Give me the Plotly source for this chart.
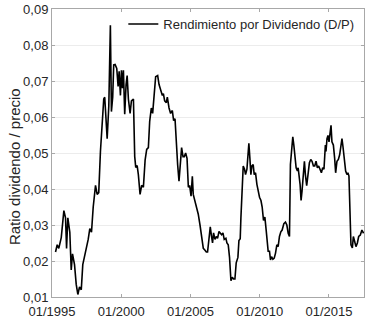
import plotly.graph_objects as go

fechas = [
    "1995-04-04", "1995-05-18", "1995-06-29", "1995-09-02", "1995-11-10", "1995-12-24",
    "1996-01-20", "1996-02-23", "1996-04-15", "1996-05-22", "1996-06-25", "1996-08-17",
    "1996-10-01", "1996-11-13", "1996-12-27", "1997-02-11", "1997-03-23", "1997-05-07",
    "1997-06-29", "1997-08-13", "1997-09-24", "1997-11-08", "1997-12-23", "1998-02-22",
    "1998-04-06", "1998-05-18", "1998-07-02", "1998-08-24", "1998-09-27", "1998-10-23",
    "1998-12-26", "1999-02-07", "1999-03-21", "1999-04-17", "1999-05-21", "1999-06-17",
    "1999-07-23", "1999-09-05", "1999-10-11", "1999-11-07", "1999-12-11", "2000-01-07",
    "2000-02-02", "2000-02-28", "2000-04-02", "2000-05-08", "2000-06-05", "2000-07-08",
    "2000-08-22", "2000-09-26", "2000-11-18", "2000-12-22", "2001-01-18", "2001-02-24",
    "2001-03-28", "2001-05-12", "2001-06-23", "2001-08-08", "2001-09-22", "2001-11-03",
    "2001-12-17", "2002-01-21", "2002-03-05", "2002-04-09", "2002-05-23", "2002-06-27",
    "2002-08-19", "2002-09-25", "2002-11-07", "2002-12-21", "2003-01-17", "2003-02-20",
    "2003-04-05", "2003-05-01", "2003-06-15", "2003-07-27", "2003-09-10", "2003-10-14",
    "2003-11-20", "2003-12-16", "2004-01-28", "2004-03-04", "2004-04-16", "2004-05-12",
    "2004-06-18", "2004-07-22", "2004-08-26", "2004-10-02", "2004-11-06", "2004-12-10",
    "2005-01-16", "2005-02-19", "2005-03-15", "2005-04-30", "2005-06-11", "2005-07-25",
    "2005-09-09", "2005-10-21", "2005-12-05", "2006-01-19", "2006-02-23", "2006-03-27",
    "2006-05-03", "2006-06-07", "2006-07-11", "2006-08-06", "2006-09-02", "2006-10-09",
    "2006-11-13", "2006-12-16", "2007-01-23", "2007-02-26", "2007-04-01", "2007-05-07",
    "2007-06-10", "2007-07-24", "2007-08-20", "2007-09-24", "2007-10-28", "2007-12-04",
    "2008-01-08", "2008-02-11", "2008-03-18", "2008-04-21", "2008-06-05", "2008-07-02",
    "2008-08-05", "2008-08-23", "2008-09-27", "2008-10-23", "2008-11-27", "2008-12-23",
    "2009-01-29", "2009-02-25", "2009-03-21", "2009-04-17", "2009-05-13", "2009-06-09",
    "2009-07-13", "2009-08-09", "2009-09-13", "2009-10-19", "2009-11-23", "2009-12-27",
    "2010-02-03", "2010-03-07", "2010-04-11", "2010-05-17", "2010-06-21", "2010-07-17",
    "2010-08-12", "2010-09-16", "2010-10-12", "2010-11-08", "2010-12-15", "2011-01-19",
    "2011-02-22", "2011-03-29", "2011-05-02", "2011-06-06", "2011-07-12", "2011-08-16",
    "2011-09-30", "2011-11-11", "2011-12-18", "2012-01-22", "2012-02-25", "2012-03-21",
    "2012-04-28", "2012-05-23", "2012-06-19", "2012-07-23", "2012-08-19", "2012-09-22",
    "2012-10-11", "2012-12-01", "2012-12-27", "2013-01-22", "2013-02-28", "2013-03-25",
    "2013-04-20", "2013-05-24", "2013-06-28", "2013-08-04", "2013-09-08", "2013-10-12",
    "2013-11-18", "2013-12-22", "2014-01-26", "2014-03-02", "2014-04-06", "2014-05-10",
    "2014-06-16", "2014-07-20", "2014-08-23", "2014-09-29", "2014-10-15", "2014-11-11",
    "2014-12-07", "2015-01-03", "2015-01-29", "2015-02-25", "2015-03-21", "2015-04-28",
    "2015-06-01", "2015-06-27", "2015-08-01", "2015-09-07", "2015-10-11", "2015-11-15",
    "2015-12-11", "2016-01-06", "2016-02-12", "2016-03-17", "2016-04-20", "2016-05-16",
    "2016-06-12", "2016-07-08", "2016-08-04", "2016-09-10", "2016-10-06", "2016-11-10",
    "2016-12-14", "2017-01-20", "2017-02-24", "2017-04-08", "2017-05-20", "2017-07-04",
]

rendimiento_dp = [
    0.0225, 0.0245, 0.0235, 0.0265, 0.0340, 0.0320,
    0.0235, 0.0320, 0.0280, 0.0175, 0.0220, 0.0190,
    0.0135, 0.0107, 0.0128, 0.0120, 0.0190, 0.0210,
    0.0235, 0.0260, 0.0290, 0.0280, 0.0350, 0.0410,
    0.0385, 0.0390, 0.0505, 0.0580, 0.0650, 0.0655,
    0.0540, 0.0630, 0.0855, 0.0615, 0.0655, 0.0745,
    0.0746, 0.0735, 0.0685, 0.0727, 0.0660, 0.0730,
    0.0680, 0.0730, 0.0608, 0.0690, 0.0715, 0.0650,
    0.0610, 0.0645, 0.0650, 0.0490, 0.0460, 0.0465,
    0.0440, 0.0385, 0.0410, 0.0405, 0.0480, 0.0510,
    0.0515, 0.0588, 0.0625, 0.0610, 0.0670, 0.0712,
    0.0715, 0.0690, 0.0675, 0.0660, 0.0665, 0.0645,
    0.0640, 0.0655, 0.0625, 0.0610, 0.0618, 0.0590,
    0.0595, 0.0540, 0.0468, 0.0422, 0.0475, 0.0515,
    0.0490, 0.0490, 0.0500, 0.0485, 0.0405, 0.0410,
    0.0380, 0.0435, 0.0385, 0.0368, 0.0345, 0.0330,
    0.0300, 0.0268, 0.0235, 0.0230, 0.0225, 0.0225,
    0.0258, 0.0295, 0.0268, 0.0250, 0.0278, 0.0260,
    0.0268, 0.0263, 0.0282, 0.0278, 0.0273, 0.0278,
    0.0260, 0.0263, 0.0250, 0.0245, 0.0210, 0.0145,
    0.0155, 0.0150, 0.0150, 0.0195, 0.0210, 0.0257,
    0.0262, 0.0320, 0.0395, 0.0464, 0.0455, 0.0440,
    0.0455, 0.0485, 0.0527, 0.0485, 0.0440, 0.0464,
    0.0468, 0.0440, 0.0445, 0.0413, 0.0395, 0.0377,
    0.0368, 0.0350, 0.0313, 0.0322, 0.0285, 0.0240,
    0.0227, 0.0227, 0.0203, 0.0212, 0.0205, 0.0208,
    0.0222, 0.0245, 0.0240, 0.0268, 0.0281, 0.0286,
    0.0304, 0.0308, 0.0300, 0.0277, 0.0268, 0.0468,
    0.0504, 0.0545, 0.0522, 0.0490, 0.0459, 0.0450,
    0.0459, 0.0413, 0.0368, 0.0395, 0.0450, 0.0477,
    0.0440, 0.0409, 0.0440, 0.0473, 0.0482, 0.0477,
    0.0464, 0.0464, 0.0477, 0.0459, 0.0464, 0.0455,
    0.0445, 0.0459, 0.0455, 0.0522, 0.0504, 0.0540,
    0.0549, 0.0531, 0.0554, 0.0577, 0.0531, 0.0522,
    0.0485, 0.0445, 0.0477, 0.0482, 0.0495, 0.0522,
    0.0540, 0.0518, 0.0485, 0.0450, 0.0440, 0.0445,
    0.0436, 0.0313, 0.0245, 0.0236, 0.0268, 0.0254,
    0.0240, 0.0250, 0.0268, 0.0272, 0.0286, 0.0277,
]

nombre_serie = "Rendimiento por Dividendo (D/P)"
titulo_y = "Ratio dividendo / precio"

fig = go.Figure()
fig.add_trace(go.Scatter(
    x=fechas, y=rendimiento_dp, mode="lines", name=nombre_serie,
    line=dict(color="black", width=1.6),
))

axis_col = "#a8a8a8"
text_col = "#262626"
fig.update_layout(
    width=368, height=318,
    margin=dict(l=52, r=4, t=9, b=21, autoexpand=False),
    paper_bgcolor="white", plot_bgcolor="white",
    separators=",.",
    font=dict(family="Liberation Sans, Arial, sans-serif", size=13, color=text_col),
    showlegend=True,
    legend=dict(x=0.985, y=1.0, xanchor="right", yanchor="top",
                bgcolor="rgba(255,255,255,0)", borderwidth=0,
                font=dict(size=13, color=text_col),
                itemwidth=30, tracegroupgap=0),
    xaxis=dict(
        type="date",
        range=["1995-01-01", "2017-07-14"],
        tick0="1995-01-01", dtick="M60", tickformat="%m/%Y",
        showgrid=False, zeroline=False,
        showline=True, linecolor=axis_col, linewidth=1, mirror="ticks",
        ticks="inside", ticklen=3, tickcolor=axis_col,
        ticklabelstandoff=2,
        tickfont=dict(size=13, color=text_col),
    ),
    yaxis=dict(
        range=[0.01, 0.09], dtick=0.01, tick0=0.01, tickformat=".2f",
        showgrid=True, gridcolor="#ececec", gridwidth=1, zeroline=False,
        showline=True, linecolor=axis_col, linewidth=1, mirror="ticks",
        ticks="inside", ticklen=3, tickcolor=axis_col,
        tickfont=dict(size=13, color=text_col),
    ),
    annotations=[dict(
        text=titulo_y, textangle=-90, showarrow=False,
        xref="paper", yref="paper", x=0, y=0.451,
        xanchor="center", yanchor="middle", xshift=-38,
        font=dict(size=15, color=text_col),
    )],
)

fig.write_html("out.html", config={"displayModeBar": False},
               post_script="document.body.style.margin='0';")
